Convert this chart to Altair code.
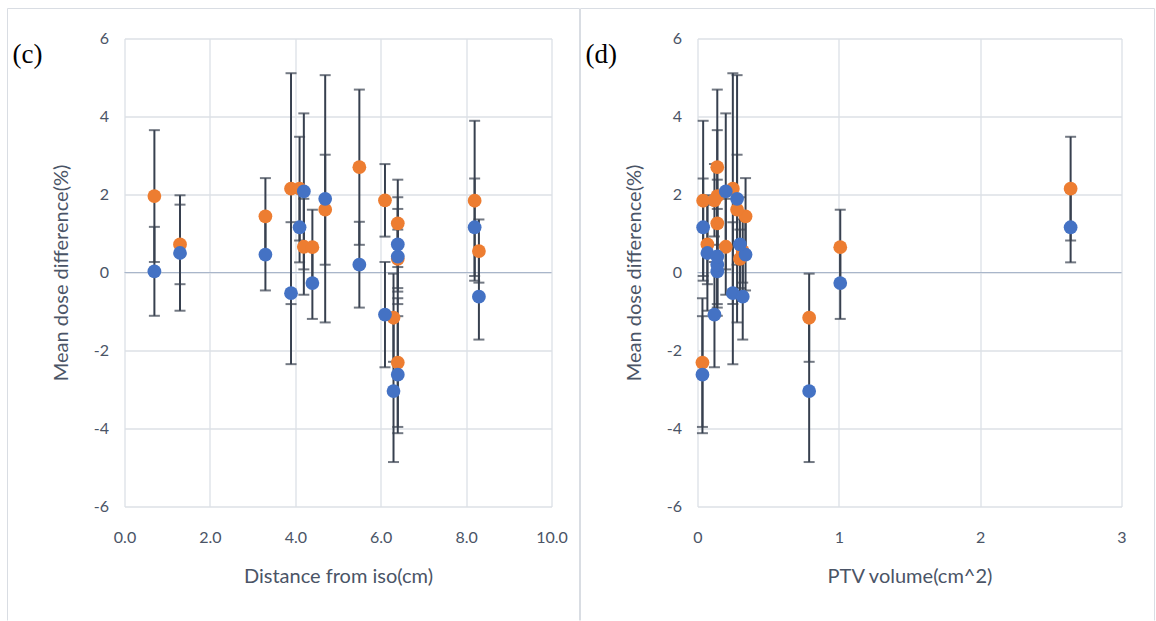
import altair as alt
import pandas as pd

# ---- data -------------------------------------------------------------
distance = [0.7, 1.3, 3.3, 3.9, 4.1, 4.2, 4.4, 4.7, 5.5, 6.1, 6.3, 6.4, 6.4, 6.4, 8.2, 8.3]
ptv_volume = [0.14, 0.07, 0.34, 0.25, 2.64, 0.20, 1.01, 0.28, 0.14, 0.12, 0.79, 0.14, 0.30, 0.035, 0.04, 0.32]
orange_mean = [1.96, 0.72, 1.44, 2.15, 2.15, 0.66, 0.65, 1.61, 2.70, 1.85, -1.16, 1.26, 0.35, -2.31, 1.84, 0.55]
orange_err = [1.69, 1.02, 0.98, 2.96, 1.33, 1.23, 0.96, 1.41, 1.99, 0.93, 1.13, 1.12, 0.75, 1.65, 2.05, 0.81]
blue_mean = [0.03, 0.50, 0.46, -0.53, 1.16, 2.08, -0.27, 1.89, 0.20, -1.08, -3.04, 0.41, 0.72, -2.62, 1.16, -0.62]
blue_err = [1.14, 1.48, 0.92, 1.82, 0.90, 2.00, 0.92, 3.17, 1.10, 1.35, 1.82, 1.22, 1.21, 1.50, 1.25, 1.10]

y_ticks = [-6, -4, -2, 0, 2, 4, 6]
dist_ticks = [0, 2, 4, 6, 8, 10]
ptv_ticks = [0, 1, 2, 3]
zero_line = [0]
panel_tags = ["(c)", "(d)"]

ORANGE = "#ED7D31"
BLUE = "#4472C4"
BAR = "#37404F"
TEXT = "#4A5466"
GRID = "#DCE0E6"
ZERO = "#A9B6CA"
BOX = "#D9DDE3"
FONT = "Lato"

rows = []
for i in range(len(distance)):
    rows.append(dict(series="B", distance=distance[i], ptv=ptv_volume[i], mean=orange_mean[i],
                     lo=orange_mean[i] - orange_err[i], hi=orange_mean[i] + orange_err[i]))
for i in range(len(distance)):
    rows.append(dict(series="A", distance=distance[i], ptv=ptv_volume[i], mean=blue_mean[i],
                     lo=blue_mean[i] - blue_err[i], hi=blue_mean[i] + blue_err[i]))
df = pd.DataFrame(rows)
one = pd.DataFrame({"v": zero_line})

H = 468


def panel(xfield, xdomain, xticks, xfmt, xtitle, tag, W, box_right):
    xaxis = alt.Axis(values=xticks, format=xfmt, title=xtitle, grid=True, gridColor=GRID,
                     gridWidth=1.3, domain=False, ticks=False, labelPadding=23,
                     labelFlush=False,
                     labelFontSize=16, labelFont=FONT, labelColor=TEXT,
                     titleFont=FONT, titleFontSize=20, titleFontWeight="normal",
                     titleColor=TEXT, titlePadding=21)
    yaxis = alt.Axis(values=y_ticks, labelExpr="'' + datum.value", title="Mean dose difference(%)",
                     grid=True, labelFlush=False,
                     gridColor=GRID, gridWidth=1.3, domain=False, ticks=False,
                     labelPadding=16, labelFontSize=16, labelFont=FONT, labelColor=TEXT,
                     titleFont=FONT, titleFontSize=20, titleFontWeight="normal",
                     titleColor=TEXT, titlePadding=22)
    xs = alt.Scale(domain=xdomain, nice=False, zero=False)
    ys = alt.Scale(domain=[-6, 6], nice=False)
    xe = alt.X(f"{xfield}:Q", scale=xs, axis=xaxis)

    base = alt.Chart(df)
    zero = alt.Chart(one).mark_rule(color=ZERO, strokeWidth=1.2).encode(
        y=alt.Y("v:Q", scale=ys, axis=yaxis))
    bars = base.mark_rule(color=BAR, strokeWidth=2).encode(
        x=xe, y=alt.Y("lo:Q", scale=ys, axis=yaxis), y2="hi:Q")
    cap_lo = base.mark_tick(orient="horizontal", size=11, thickness=2, color=BAR).encode(
        x=xe, y=alt.Y("lo:Q", scale=ys, axis=yaxis))
    cap_hi = base.mark_tick(orient="horizontal", size=11, thickness=2, color=BAR).encode(
        x=xe, y=alt.Y("hi:Q", scale=ys, axis=yaxis))
    pts_o = base.transform_filter(alt.datum.series == "B").mark_circle(
        size=190, opacity=1, color=ORANGE).encode(x=xe, y=alt.Y("mean:Q", scale=ys, axis=yaxis))
    pts_b = base.transform_filter(alt.datum.series == "A").mark_circle(
        size=190, opacity=1, color=BLUE).encode(x=xe, y=alt.Y("mean:Q", scale=ys, axis=yaxis))

    label = alt.Chart(pd.DataFrame({"t": [tag]})).mark_text(
        font="Liberation Serif", fontSize=27, color="#000000", align="left",
        baseline="middle").encode(text="t:N", x=alt.value(-112), y=alt.value(16))

    frame = alt.Chart(one)
    left = frame.mark_rule(color=BOX, strokeWidth=1).encode(
        x=alt.value(-117), y=alt.value(-30), y2=alt.value(582))
    top = frame.mark_rule(color=BOX, strokeWidth=1).encode(
        x=alt.value(-117), x2=alt.value(box_right), y=alt.value(-30))
    right = frame.mark_rule(color=BOX, strokeWidth=1).encode(
        x=alt.value(box_right), y=alt.value(-30), y2=alt.value(582))

    return alt.layer(zero, bars, cap_lo, cap_hi, pts_o, pts_b, label, left, top, right).properties(
        width=W, height=H)


c_panel = panel("distance", [0, 10], dist_ticks, ".1f", "Distance from iso(cm)", panel_tags[0], 427, 455)
d_panel = panel("ptv", [0, 3], ptv_ticks, "d", "PTV volume(cm^2)", panel_tags[1], 424, 457)

chart = alt.hconcat(c_panel, d_panel, spacing=146, bounds="flush").properties(
    padding={"left": 6.5, "top": 7.5, "right": 0, "bottom": 0},
    background="white",
).configure_view(stroke=None)

chart.save("out.html", embed_options={"renderer": "svg", "actions": False})
